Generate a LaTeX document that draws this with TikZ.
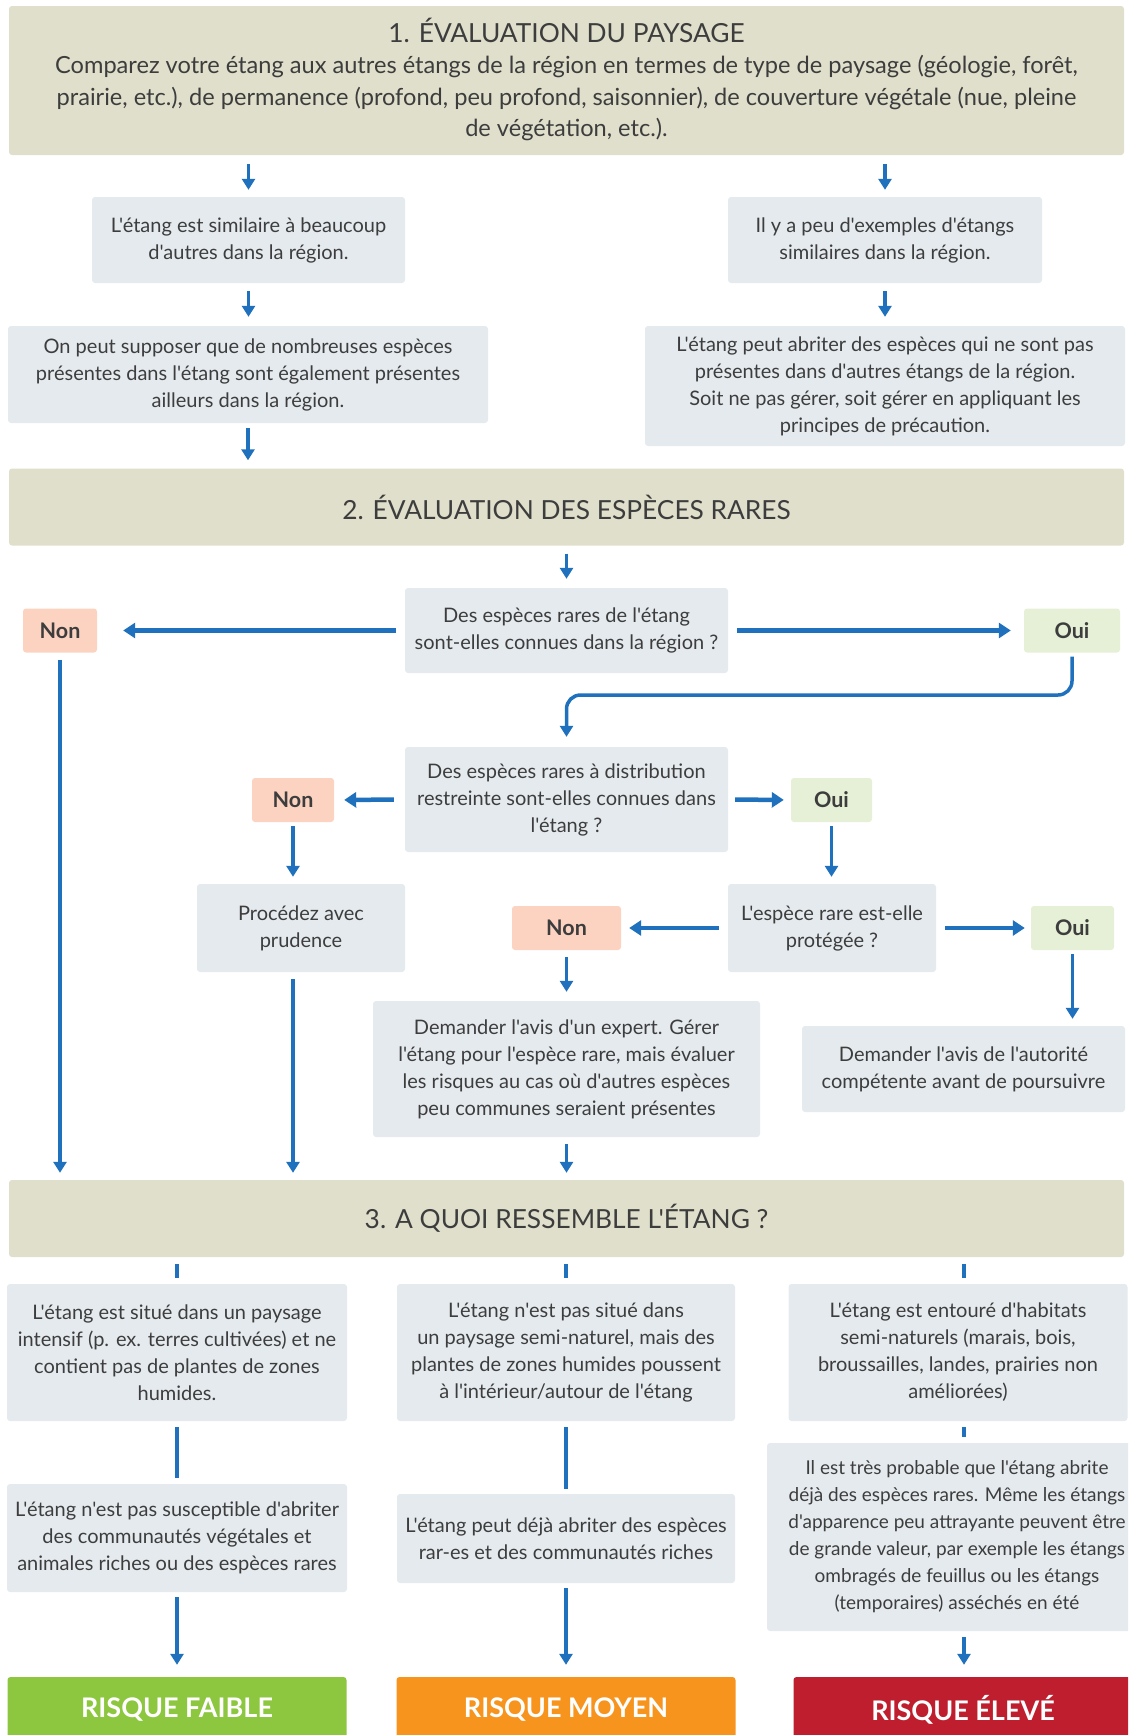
\documentclass[tikz,border=0pt]{standalone}
\usepackage{fontspec}
\setmainfont{Lato}[Ligatures=TeXOff]
\usetikzlibrary{arrows.meta,calc}
\definecolor{beige}{HTML}{E0DFCB}
\definecolor{boxgray}{HTML}{E5EAEE}
\definecolor{nonfill}{HTML}{FCD3C1}
\definecolor{ouifill}{HTML}{E5F0D6}
\definecolor{flowblue}{HTML}{1F70BD}
\definecolor{riskgreen}{HTML}{8DC63F}
\definecolor{riskorange}{HTML}{F7941E}
\definecolor{riskred}{HTML}{BE1E2D}
\definecolor{txt}{HTML}{3D3D3D}
\tikzset{
  base/.style={inner sep=0pt, align=center, text=txt, rounded corners=3pt},
  header/.style={base, fill=beige, minimum width=1115pt},
  infobox/.style={base, fill=boxgray, font=\fontsize{20}{27}\selectfont},
  nonbox/.style={base, fill=nonfill, font=\bfseries\fontsize{21.5}{24}\selectfont, minimum height=44pt},
  ouibox/.style={base, fill=ouifill, font=\bfseries\fontsize{21.5}{24}\selectfont, minimum height=44pt},
  riskbox/.style={base, text=white, font=\bfseries\fontsize{27}{30}\selectfont, minimum width=339pt, minimum height=66pt},
  arr/.style={draw=flowblue, line width=3.5pt, -{Triangle[length=11pt,width=13pt]}},
  harr/.style={arr, line width=4.5pt, -{Triangle[length=12pt,width=15pt]}},
  plain/.style={draw=flowblue, line width=3.5pt}
}
\begin{document}
\begin{tikzpicture}[x=1pt,y=-1pt]
\path[use as bounding box] (0,0) rectangle (1128,1735);
\clip (0,0) rectangle (1128,1735);
% Section 1
\node[header, minimum height=149pt] (h1) at (566.5,80.5) {};
\node[text=txt, font=\fontsize{26.3}{31}\selectfont] (h1title) at (566.5,30) {1. ÉVALUATION DU PAYSAGE};
\node[text=txt, align=center, font=\fontsize{23.6}{31.5}\selectfont, anchor=north] (h1body) at (566.5,52) {Comparez votre étang aux autres étangs de la région en termes de type de paysage (géologie, forêt,\\prairie, etc.), de permanence (profond, peu profond, saisonnier), de couverture végétale (nue, pleine\\de végétation, etc.).};
\node[infobox, minimum width=313pt, minimum height=86pt] (A) at (248.5,240) {L'étang est similaire à beaucoup\\d'autres dans la région.};
\node[infobox, minimum width=314pt, minimum height=86pt] (B) at (885,240) {Il y a peu d'exemples d'étangs\\similaires dans la région.};
\node[infobox, minimum width=480pt, minimum height=97pt] (C) at (248,374.5) {On peut supposer que de nombreuses espèces\\présentes dans l'étang sont également présentes\\ailleurs dans la région.};
\node[infobox, minimum width=480pt, minimum height=120pt] (D) at (885,386) {L'étang peut abriter des espèces qui ne sont pas\\présentes dans d'autres étangs de la région.\\Soit ne pas gérer, soit gérer en appliquant les\\principes de précaution.};
% Section 2
\node[header, minimum height=77pt, font=\fontsize{26.3}{31}\selectfont] (h2) at (566.5,507) {2. ÉVALUATION DES ESPÈCES RARES};
\node[infobox, minimum width=323pt, minimum height=85pt] (Q1) at (566.5,630.5) {Des espèces rares de l'étang\\sont-elles connues dans la région ?};
\node[nonbox, minimum width=74pt] (Non1) at (60,630.5) {Non};
\node[ouibox, minimum width=96pt] (Oui1) at (1072,630.5) {Oui};
\node[infobox, minimum width=323pt, minimum height=105pt] (Q2) at (566.5,799.5) {Des espèces rares à distribution\\restreinte sont-elles connues dans\\l'étang ?};
\node[nonbox, minimum width=82pt] (Non2) at (293,800) {Non};
\node[ouibox, minimum width=81pt] (Oui2) at (831.5,800) {Oui};
\node[infobox, minimum width=208pt, minimum height=88pt] (Proc) at (301,928) {Procédez avec\\prudence};
\node[infobox, minimum width=208pt, minimum height=88pt] (Q3) at (832,928) {L'espèce rare est-elle\\protégée ?};
\node[nonbox, minimum width=109pt] (Non3) at (566.5,928) {Non};
\node[ouibox, minimum width=83pt] (Oui3) at (1072.5,928) {Oui};
\node[infobox, minimum width=387pt, minimum height=136pt] (Expert) at (566.5,1069) {Demander l'avis d'un expert. Gérer\\l'étang pour l'espèce rare, mais évaluer\\les risques au cas où d'autres espèces\\peu communes seraient présentes};
\node[infobox, minimum width=323pt, minimum height=86pt] (Autor) at (963.5,1069) {Demander l'avis de l'autorité\\compétente avant de poursuivre};
% Section 3
\node[header, minimum height=77pt, font=\fontsize{26.3}{31}\selectfont] (h3) at (566.5,1218.5) {3. A QUOI RESSEMBLE L'ÉTANG ?};
\coordinate (col3) at (964,0);
\node[infobox, minimum width=340pt, minimum height=137pt] (P1) at (177,1352.5) {L'étang est situé dans un paysage\\intensif (p. ex. terres cultivées) et ne\\contient pas de plantes de zones\\humides.};
\node[infobox, minimum width=338pt, minimum height=137pt] (P2) at (566,1352.5) {L'étang n'est pas situé dans\\un paysage semi-naturel, mais des\\plantes de zones humides poussent\\à l'intérieur/autour de l'étang};
\node[infobox, minimum width=339pt, minimum height=137pt] (P3) at (958,1352.5) {L'étang est entouré d'habitats\\semi-naturels (marais, bois,\\broussailles, landes, prairies non\\améliorées)};
\node[infobox, minimum width=380pt, minimum height=188pt, font=\fontsize{19}{27}\selectfont] (P3b) at (957,1537) {Il est très probable que l'étang abrite\\déjà des espèces rares. Même les étangs\\d'apparence peu attrayante peuvent être\\de grande valeur, par exemple les étangs\\ombragés de feuillus ou les étangs\\(temporaires) asséchés en été};
\node[infobox, minimum width=340pt, minimum height=108pt] (P1b) at (177,1538) {L'étang n'est pas susceptible d'abriter\\des communautés végétales et\\animales riches ou des espèces rares};
\node[infobox, minimum width=338pt, minimum height=89pt] (P2b) at (566,1538.5) {L'étang peut déjà abriter des espèces\\rar-es et des communautés riches};
\node[riskbox, fill=riskgreen] (R1) at (177,1710) {RISQUE FAIBLE};
\node[riskbox, fill=riskorange] (R2) at (566,1710) {RISQUE MOYEN};
\node[riskbox, fill=riskred] (R3) at (963,1710) {RISQUE ÉLEVÉ};
% Connectors section 1
\draw[arr, shorten <=9pt, shorten >=7pt] (h1.south -| A.north) -- (A.north);
\draw[arr, shorten <=9pt, shorten >=7pt] (h1.south -| B.north) -- (B.north);
\draw[arr, shorten <=8pt, shorten >=9pt] (A.south) -- (A.south |- C.north);
\draw[arr, shorten <=8pt, shorten >=9pt] (B.south) -- (B.south |- D.north);
\draw[arr, shorten <=5pt, shorten >=8pt] (C.south) -- (C.south |- h2.north);
% Connectors section 2
\draw[arr, shorten <=8pt, shorten >=9pt] (h2.south -| Q1.north) -- (Q1.north);
\draw[harr, shorten <=9pt, shorten >=26pt] (Q1.west) -- (Non1.east);
\draw[harr, shorten <=9pt, shorten >=13pt] (Q1.east) -- (Oui1.west);
\coordinate (bend) at (566.5,695);
\draw[arr, rounded corners=14pt, shorten <=4pt, shorten >=10pt] (Oui1.south) |- (bend) -- (Q2.north);
\draw[harr, shorten <=11pt, shorten >=10pt] (Q2.west) -- (Non2.east);
\draw[harr, shorten <=7pt, shorten >=7pt] (Q2.east) -- (Oui2.west);
\draw[arr, shorten <=4pt, shorten >=7pt] (Non2.south) -- (Non2.south |- Proc.north);
\draw[arr, shorten <=4pt, shorten >=7pt] (Oui2.south) -- (Oui2.south |- Q3.north);
\draw[harr, shorten <=9pt, shorten >=8pt] (Q3.west) -- (Non3.east);
\draw[harr, shorten <=9pt, shorten >=6pt] (Q3.east) -- (Oui3.west);
\draw[arr, shorten <=7pt, shorten >=9pt] (Non3.south) -- (Expert.north);
\draw[arr, shorten <=4pt, shorten >=7pt] (Oui3.south) -- (Oui3.south |- Autor.north);
\draw[arr, shorten <=7pt, shorten >=7pt] (Non1.south) -- (Non1.south |- h3.north);
\draw[arr, shorten <=7pt, shorten >=7pt] (Non2.south |- Proc.south) -- (Non2.south |- h3.north);
\draw[arr, shorten <=7pt, shorten >=7pt] (Expert.south) -- (Expert.south |- h3.north);
% Connectors section 3
\draw[plain, shorten <=7pt, shorten >=6pt] (h3.south -| P1.north) -- (P1.north);
\draw[plain, shorten <=7pt, shorten >=6pt] (h3.south -| P2.north) -- (P2.north);
\draw[plain, shorten <=7pt, shorten >=6pt] (col3 |- h3.south) -- (col3 |- P3.north);
\draw[plain, shorten <=6pt, shorten >=6pt] (P1.south) -- (P1b.north);
\draw[plain, shorten <=6pt, shorten >=5pt] (P2.south) -- (P2b.north);
\draw[plain, shorten <=6pt, shorten >=6pt] (col3 |- P3.south) -- (col3 |- P3b.north);
\draw[arr, shorten <=5pt, shorten >=12pt] (P1b.south) -- (R1.north);
\draw[arr, shorten <=5pt, shorten >=12pt] (P2b.south) -- (R2.north);
\draw[arr, shorten <=6pt, shorten >=12pt] (col3 |- P3b.south) -- (col3 |- R3.north);
\end{tikzpicture}
\end{document}
